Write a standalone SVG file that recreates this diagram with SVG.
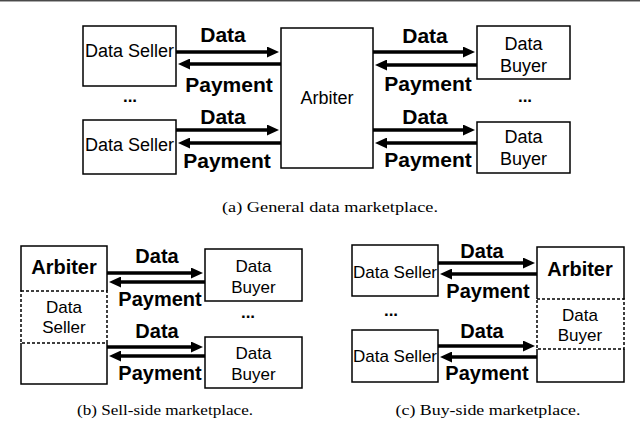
<svg xmlns="http://www.w3.org/2000/svg" width="640" height="423" viewBox="0 0 640 423">
<style>
.box{fill:#fff;stroke:#000;stroke-width:1.5}
.edge{fill:none;stroke:#000;stroke-width:1.5}
.dash{fill:none;stroke:#000;stroke-width:1.5;stroke-dasharray:3,2}
.arr{stroke:#000;stroke-width:3.5;fill:none;marker-end:url(#ah)}
.t{font-family:"Liberation Sans",Arial,sans-serif;font-size:18px;text-anchor:middle;fill:#000}
.ts{font-family:"Liberation Sans",Arial,sans-serif;font-size:17px;text-anchor:middle;fill:#000}
.b{font-family:"Liberation Sans",Arial,sans-serif;font-size:21px;font-weight:bold;text-anchor:middle;fill:#000}
.bs{font-family:"Liberation Sans",Arial,sans-serif;font-size:20px;font-weight:bold;text-anchor:middle;fill:#000}
.dots{font-family:"Liberation Sans",Arial,sans-serif;font-size:17px;font-weight:bold;text-anchor:middle;fill:#000}
.cap{font-family:"Liberation Serif","Times New Roman",serif;font-size:14px;text-anchor:middle;fill:#000}
</style>
<defs>
<marker id="ah" markerUnits="userSpaceOnUse" markerWidth="13" markerHeight="11" refX="2" refY="5.5" orient="auto">
<path d="M0,0 L12,5.5 L0,11 z" fill="#000"/>
</marker>
</defs>
<rect x="0" y="0" width="640" height="1" fill="#4a4a4a"/>
<rect x="0" y="1" width="640" height="1" fill="#aaa"/>

<!-- (a) -->
<g id="a-seller1"><rect class="box" x="83" y="26" width="93" height="60"/><text class="t" x="129.5" y="57">Data Seller</text></g>
<g id="a-seller2"><rect class="box" x="83" y="120" width="93" height="54"/><text class="t" x="129.5" y="151">Data Seller</text></g>
<g id="a-arbiter"><rect class="box" x="281" y="28" width="92" height="140"/><text class="t" x="327" y="104">Arbiter</text></g>
<g id="a-buyer1"><rect class="box" x="477" y="26" width="93" height="53"/><text class="t" x="523.5" y="50">Data</text><text class="t" x="523.5" y="72">Buyer</text></g>
<g id="a-buyer2"><rect class="box" x="477" y="122" width="93" height="51"/><text class="t" x="523.5" y="143">Data</text><text class="t" x="523.5" y="165">Buyer</text></g>
<text class="dots" x="130" y="102">...</text>
<text class="dots" x="525" y="102">...</text>

<!-- (b) -->
<g id="b-arbiter">
<path class="edge" d="M21,291 V246 H107 V291"/>
<rect class="dash" x="21" y="291" width="86" height="52"/>
<path class="edge" d="M21,343 V384 H107 V343"/>
<text class="bs" x="64" y="274">Arbiter</text>
<text class="ts" x="64" y="313">Data</text><text class="ts" x="64" y="333">Seller</text>
</g>
<g id="b-buyer1"><rect class="box" x="205" y="249" width="97" height="52"/><text class="ts" x="253.5" y="272">Data</text><text class="ts" x="253.5" y="293">Buyer</text></g>
<g id="b-buyer2"><rect class="box" x="205" y="337" width="97" height="51"/><text class="ts" x="253.5" y="359">Data</text><text class="ts" x="253.5" y="380">Buyer</text></g>
<text class="dots" x="248" y="318">...</text>

<!-- (c) -->
<g id="c-seller1"><rect class="box" x="352" y="245" width="86" height="51"/><text class="ts" x="395" y="278">Data Seller</text></g>
<g id="c-seller2"><rect class="box" x="352" y="330" width="86" height="52"/><text class="ts" x="395" y="362">Data Seller</text></g>
<g id="c-arbiter">
<path class="edge" d="M537,299 V247 H624 V299"/>
<rect class="dash" x="537" y="299" width="87" height="50"/>
<path class="edge" d="M537,349 V382 H624 V349"/>
<text class="bs" x="580" y="276">Arbiter</text>
<text class="ts" x="580" y="321">Data</text><text class="ts" x="580" y="341">Buyer</text>
</g>
<text class="dots" x="391" y="316">...</text>

<g id="connectors">
<line class="arr" x1="176" y1="52" x2="269" y2="52"/>
<line class="arr" x1="281" y1="64" x2="188" y2="64"/>
<line class="arr" x1="176" y1="130" x2="269" y2="130"/>
<line class="arr" x1="281" y1="143" x2="188" y2="143"/>
<line class="arr" x1="373" y1="52" x2="465" y2="52"/>
<line class="arr" x1="477" y1="65" x2="385" y2="65"/>
<line class="arr" x1="373" y1="130" x2="465" y2="130"/>
<line class="arr" x1="477" y1="143" x2="385" y2="143"/>
<line class="arr" x1="107" y1="273" x2="193" y2="273"/>
<line class="arr" x1="205" y1="282" x2="119" y2="282"/>
<line class="arr" x1="107" y1="347" x2="193" y2="347"/>
<line class="arr" x1="205" y1="356" x2="119" y2="356"/>
<line class="arr" x1="438" y1="263" x2="525" y2="263"/>
<line class="arr" x1="537" y1="274" x2="450" y2="274"/>
<line class="arr" x1="438" y1="346" x2="525" y2="346"/>
<line class="arr" x1="537" y1="357" x2="450" y2="357"/>
</g>

<g id="labels">
<text class="b" x="223" y="42">Data</text>
<text class="b" x="229" y="92">Payment</text>
<text class="b" x="223" y="124">Data</text>
<text class="b" x="227" y="168">Payment</text>
<text class="b" x="425" y="43">Data</text>
<text class="b" x="428" y="91">Payment</text>
<text class="b" x="425" y="124">Data</text>
<text class="b" x="428" y="167">Payment</text>
<text class="bs" x="157" y="263">Data</text>
<text class="bs" x="160" y="306">Payment</text>
<text class="bs" x="157" y="338">Data</text>
<text class="bs" x="160" y="380">Payment</text>
<text class="bs" x="482" y="258">Data</text>
<text class="bs" x="488" y="298">Payment</text>
<text class="bs" x="482" y="338">Data</text>
<text class="bs" x="487" y="380">Payment</text>
</g>

<text class="cap" x="330" y="212" textLength="216" lengthAdjust="spacingAndGlyphs">(a) General data marketplace.</text>
<text class="cap" x="165" y="415" textLength="176" lengthAdjust="spacingAndGlyphs">(b) Sell-side marketplace.</text>
<text class="cap" x="488" y="415" textLength="185" lengthAdjust="spacingAndGlyphs">(c) Buy-side marketplace.</text>
</svg>
